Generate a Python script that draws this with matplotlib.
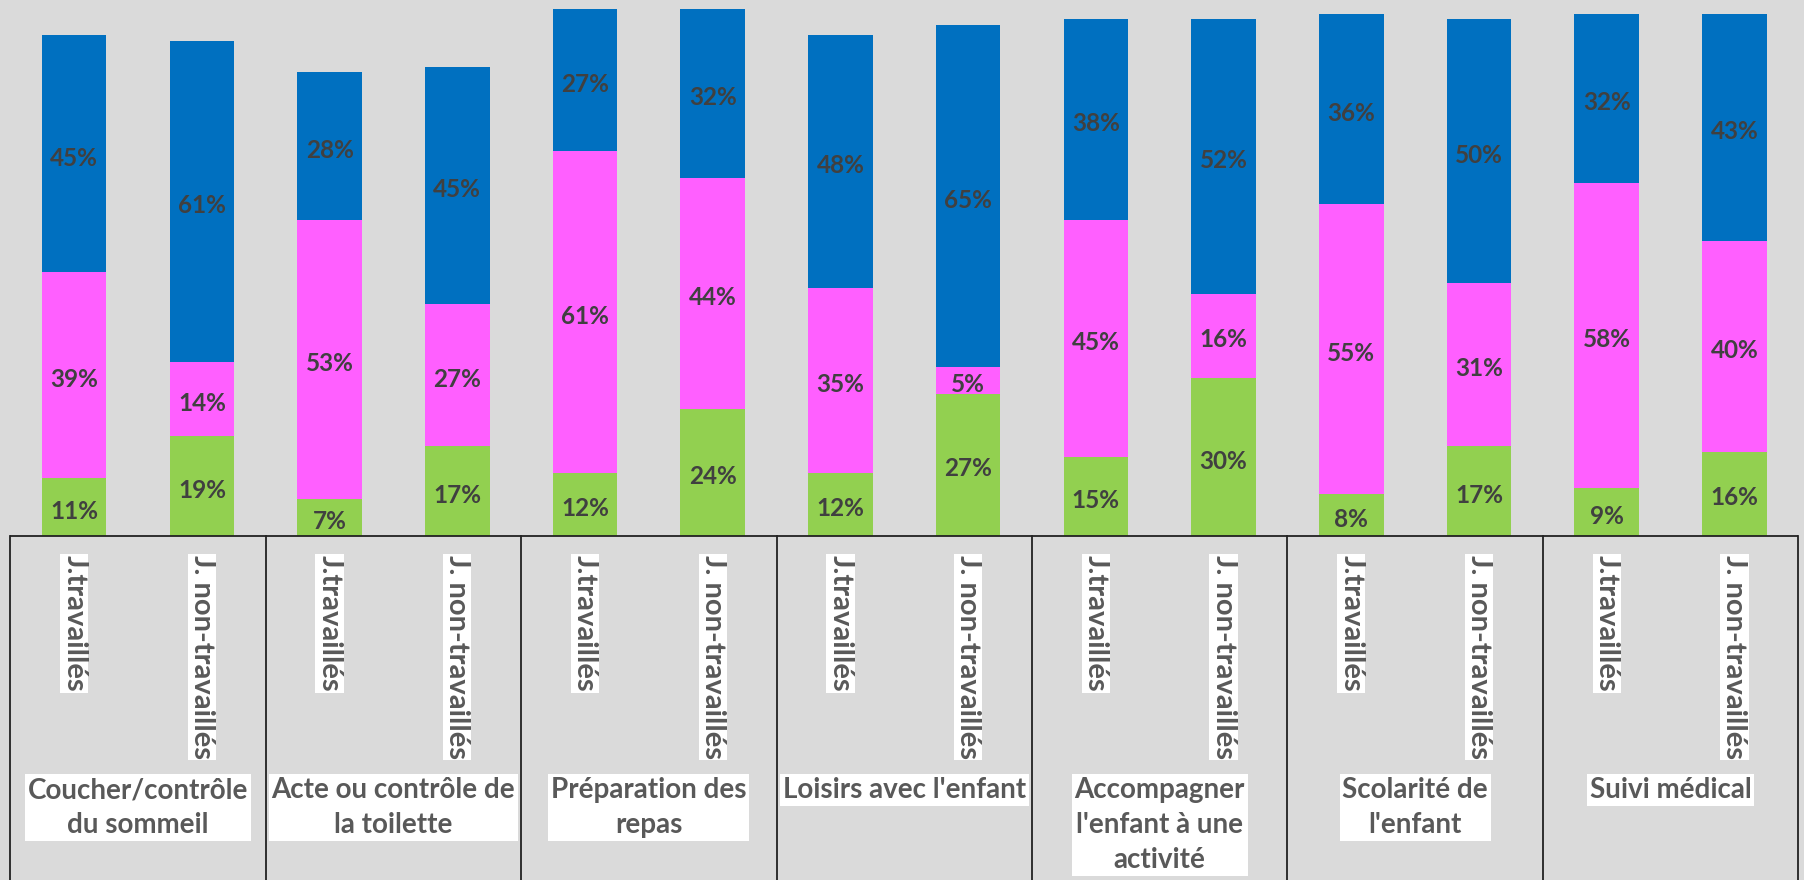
import matplotlib
matplotlib.use("Agg")
import matplotlib.pyplot as plt
import numpy as np

categories = ["Coucher/contrôle\ndu sommeil", "Acte ou contrôle de\nla toilette",
              "Préparation des\nrepas", "Loisirs avec l'enfant",
              "Accompagner\nl'enfant à une\nactivité", "Scolarité de\nl'enfant",
              "Suivi médical"]
day_types = ["J.travaillés", "J. non-travaillés"]

# per bar (category x day type), in order
green = [11, 19, 7, 17, 12, 24, 12, 27, 15, 30, 8, 17, 9, 16]
pink = [39, 14, 53, 27, 61, 44, 35, 5, 45, 16, 55, 31, 58, 40]
blue = [45, 61, 28, 45, 27, 32, 48, 65, 38, 52, 36, 50, 32, 43]

C_GREEN = "#92D050"
C_PINK = "#FF5FFF"
C_BLUE = "#0070C0"
BG = "#dadada"
FONT = ["Lato", "DejaVu Sans"]

fig = plt.figure(figsize=(18.04, 8.8), dpi=100)
fig.patch.set_facecolor(BG)
ax = fig.add_axes([0, 0, 1, 1])
ax.set_facecolor(BG)
ax.set_xlim(-0.581, 13.545)
ax.set_ylim(-65.3, 101.7)
ax.axis("off")

x = np.arange(len(green))
g = np.array(green)
p = np.array(pink)
b = np.array(blue)
w = 0.505
ax.bar(x, g, width=w, color=C_GREEN, zorder=2)
ax.bar(x, p, width=w, bottom=g, color=C_PINK, zorder=2)
ax.bar(x, b, width=w, bottom=g + p, color=C_BLUE, zorder=2)

for i in range(len(x)):
    for val, base in ((g[i], 0), (p[i], g[i]), (b[i], g[i] + p[i])):
        ax.text(x[i], base + val / 2 - 0.8, f"{val}%", ha="center", va="center",
                fontsize=17.5, fontweight="bold", color="#404040", family=FONT, zorder=3)

# table-like frame below the bars
ax.plot([-0.5, 13.5], [0, 0], color="#222222", lw=1.3, zorder=4, solid_capstyle="butt")
for k in range(len(categories) + 1):
    xv = -0.5 + 2 * k
    ax.plot([xv, xv], [0, -70], color="#222222", lw=1.3, zorder=4)

for i in range(len(x)):
    ax.text(x[i], -3.6, day_types[i % 2], rotation=270, ha="center", va="top",
            fontsize=21, fontweight="bold", color="#595959", family=FONT, zorder=5,
            bbox=dict(facecolor="white", edgecolor="none", pad=0.8))

for k, cat in enumerate(categories):
    ax.text(2 * k + 0.5, -45.8, cat, ha="center", va="top", fontsize=20,
            fontweight="bold", color="#595959", family=FONT, linespacing=1.42,
            zorder=5, bbox=dict(facecolor="white", edgecolor="none", pad=2.0))

fig.savefig("out.png", dpi=100, facecolor=BG)
